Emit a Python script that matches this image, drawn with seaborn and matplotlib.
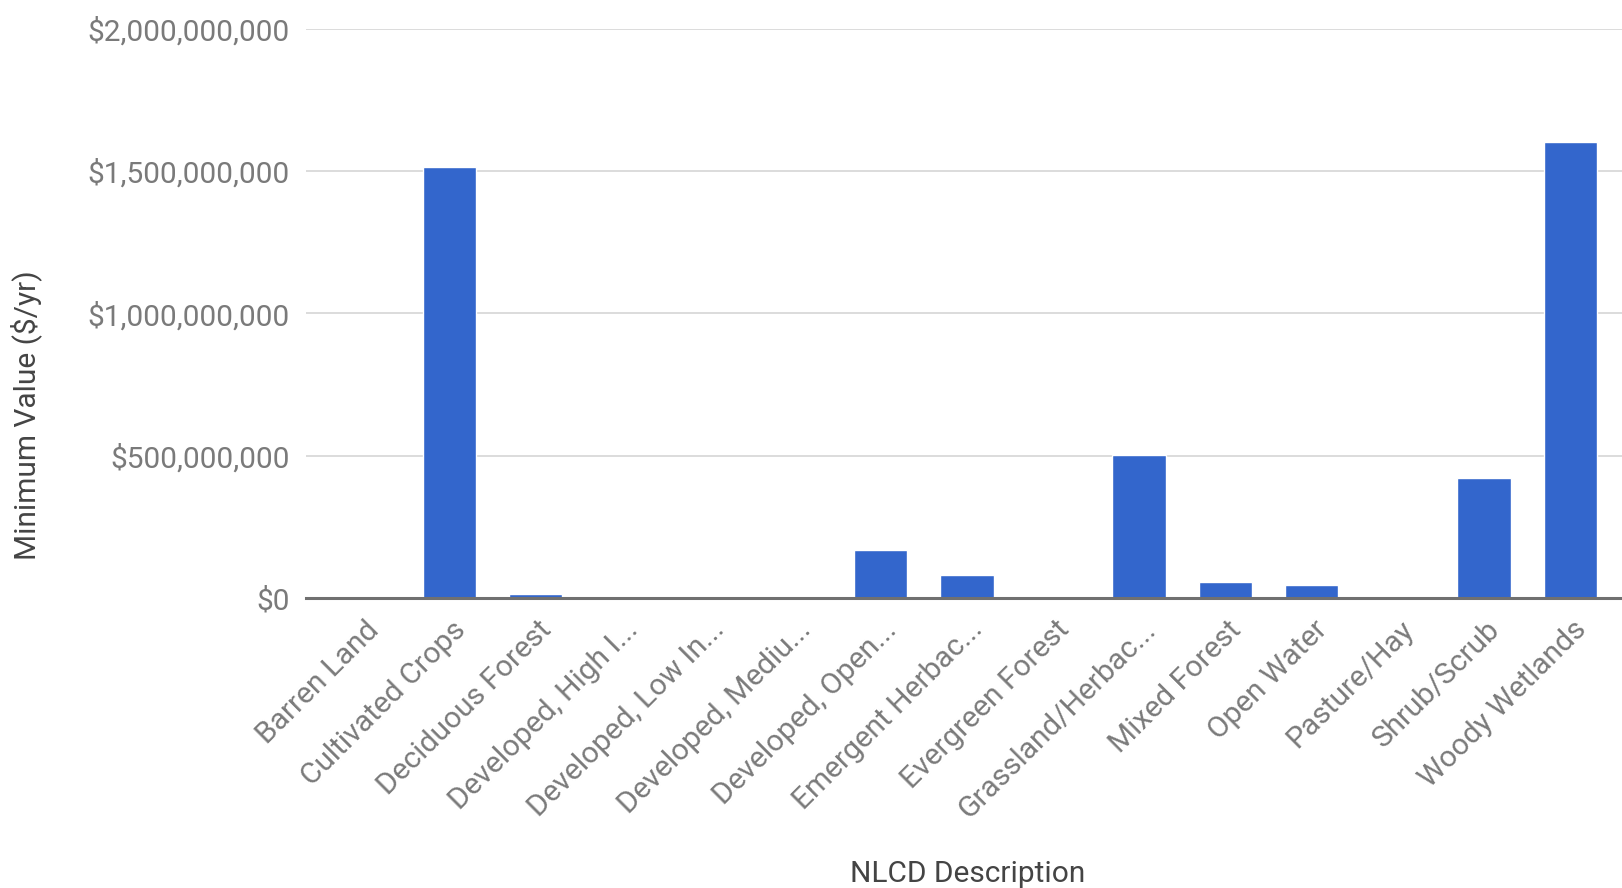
import matplotlib
matplotlib.use("Agg")
import matplotlib.pyplot as plt
import matplotlib.ticker as mticker
import matplotlib.transforms as mtransforms
import seaborn as sns
import pandas as pd

categories = [
    "Barren Land", "Cultivated Crops", "Deciduous Forest", "Developed, High I...",
    "Developed, Low In...", "Developed, Mediu...", "Developed, Open...",
    "Emergent Herbac...", "Evergreen Forest", "Grassland/Herbac...",
    "Mixed Forest", "Open Water", "Pasture/Hay", "Shrub/Scrub", "Woody Wetlands",
]
values = [
    0, 1516e6, 15e6, 0, 0, 0, 167e6, 80e6, 0, 502e6, 55e6, 44e6, 0, 422e6, 1604e6,
]
y_ticks = [0, 500e6, 1000e6, 1500e6, 2000e6]

df = pd.DataFrame({"NLCD Description": categories, "Minimum Value ($/yr)": values})

sns.set_theme(style="white")
plt.rcParams["font.family"] = ["Roboto", "DejaVu Sans"]

fig = plt.figure(figsize=(16.22, 8.88), dpi=100)
ax = fig.add_axes([306 / 1622, 1 - 598 / 888, 1 - 306 / 1622, (598 - 29) / 888])

sns.barplot(data=df, x="NLCD Description", y="Minimum Value ($/yr)",
            color="#3366cc", saturation=1, width=0.62, ax=ax, zorder=3)

ax.set_xlim(-0.665, 14.6)
ax.set_ylim(0, 2000e6)
ax.set_yticks(y_ticks)
ax.yaxis.set_major_formatter(mticker.FuncFormatter(lambda v, p: f"${v:,.0f}"))
ax.grid(axis="y", color="#d9d9d9", linewidth=1.3, zorder=0)
ax.grid(axis="x", visible=False)
for s in ["top", "right", "left"]:
    ax.spines[s].set_visible(False)
ax.spines["bottom"].set_color("#707070")
ax.spines["bottom"].set_linewidth(2.2)
ax.spines["bottom"].set_zorder(4)

ax.tick_params(axis="y", length=0, pad=11.5, labelsize=21.5, labelcolor="#7a7a7a")
ax.tick_params(axis="x", length=0, pad=4, labelsize=21.5, labelcolor="#7a7a7a")

offset = mtransforms.ScaledTranslation(2 / 100, -12 / 100, fig.dpi_scale_trans)
for lbl in ax.get_xticklabels():
    lbl.set_rotation(45)
    lbl.set_ha("right")
    lbl.set_va("top")
    lbl.set_rotation_mode("anchor")
    lbl.set_transform(lbl.get_transform() + offset)

ax.set_xlabel("NLCD Description", fontsize=21.5, color="#444444")
ax.set_ylabel("Minimum Value ($/yr)", fontsize=21.5, color="#444444")

# place axis titles at fixed pixel positions
ax.xaxis.set_label_coords(968 / 1622, 1 - 874 / 888, transform=fig.transFigure)
ax.xaxis.label.set_va("center")
ax.yaxis.set_label_coords(26 / 1622, 1 - 415 / 888, transform=fig.transFigure)
ax.yaxis.label.set_va("center")

fig.savefig("out.png", dpi=100, facecolor="white")
